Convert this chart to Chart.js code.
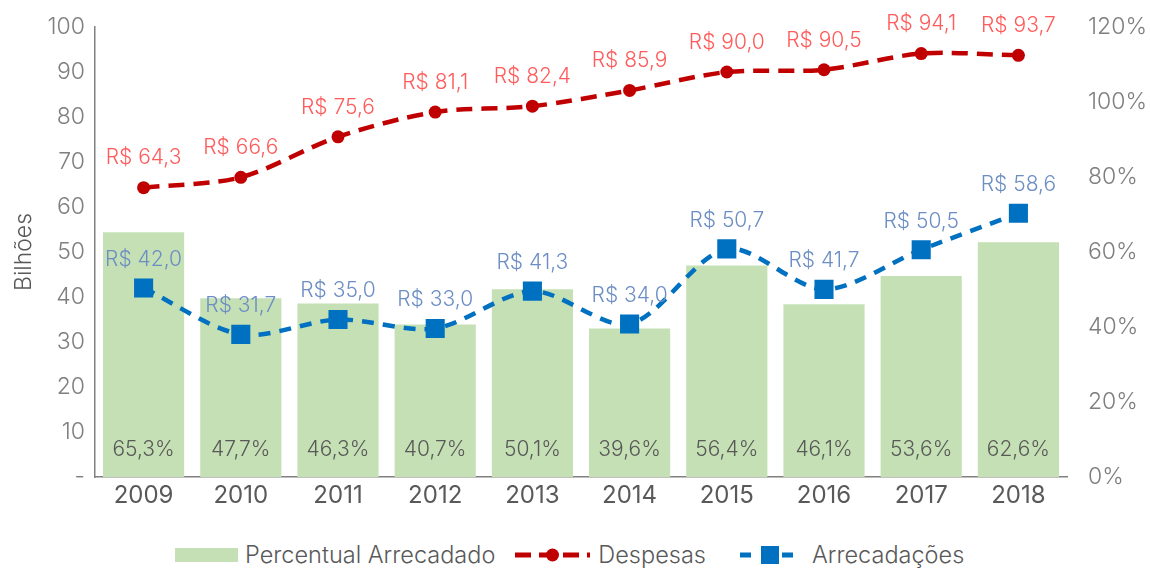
<!DOCTYPE html>
<html lang="pt">
<head>
    <meta charset="UTF-8">
    <title>Despesas x Arrecadações</title>
    <script src="https://cdn.jsdelivr.net/npm/chart.js"></script>
    <style>
        body {
            margin: 0;
            padding: 0;
            background: #fff;
            font-family: 'Inter', sans-serif;
        }
        .wrap {
            position: relative;
            width: 1150px;
            height: 570px;
        }
        .chart-box {
            position: absolute;
            left: 0;
            top: 0;
            width: 1150px;
            height: 520px;
        }
        .legend {
            position: absolute;
            top: 540px;
            left: 175px;
            display: flex;
            align-items: center;
            font-size: 23.5px;
            font-weight: 300;
            color: #595959;
            white-space: nowrap;
        }
        .legend .item {
            display: flex;
            align-items: center;
        }
    </style>
</head>
<body>
<div class="wrap">
    <div class="chart-box">
        <canvas id="chart" width="1150" height="520"></canvas>
    </div>
    <div class="legend">
        <div class="item">
            <svg width="63" height="16" style="margin-right:7px"><rect x="0" y="1" width="63" height="14" fill="#C5E0B4"></rect></svg>
            <span>Percentual Arrecadado</span>
        </div>
        <div class="item" style="margin-left:20px">
            <svg width="75" height="16" style="margin-right:8px">
                <line x1="0" y1="8" x2="75" y2="8" stroke="#C00000" stroke-width="5" stroke-dasharray="16 8"></line>
                <circle cx="37.5" cy="8" r="6.5" fill="#C00000"></circle>
            </svg>
            <span>Despesas</span>
        </div>
        <div class="item" style="margin-left:34px">
            <svg width="60" height="20" style="margin-right:12px">
                <line x1="0" y1="10" x2="60" y2="10" stroke="#0070C0" stroke-width="5" stroke-dasharray="11 10"></line>
                <rect x="21" y="1" width="18" height="18" fill="#0070C0"></rect>
            </svg>
            <span>Arrecadações</span>
        </div>
    </div>
</div>

<script>
    const years = ['2009', '2010', '2011', '2012', '2013', '2014', '2015', '2016', '2017', '2018'];
    const despesas = [64.3, 66.6, 75.6, 81.1, 82.4, 85.9, 90.0, 90.5, 94.1, 93.7];
    const arrecadacoes = [42.0, 31.7, 35.0, 33.0, 41.3, 34.0, 50.7, 41.7, 50.5, 58.6];
    const percentual = [65.3, 47.7, 46.3, 40.7, 50.1, 39.6, 56.4, 46.1, 53.6, 62.6];

    const fmt = v => v.toFixed(1).replace('.', ',');

    // draws the value labels (no datalabels plugin here)
    const valueLabels = {
        id: 'valueLabels',
        afterDatasetsDraw(chart) {
            const ctx = chart.ctx;
            ctx.save();
            ctx.font = '300 21px Inter';
            ctx.textAlign = 'center';
            chart.data.datasets.forEach((ds, i) => {
                const meta = chart.getDatasetMeta(i);
                meta.data.forEach((el, j) => {
                    const v = ds.data[j];
                    if (ds.type === 'bar') {
                        ctx.fillStyle = '#595959';
                        ctx.textBaseline = 'middle';
                        ctx.fillText(fmt(v) + '%', el.x, chart.chartArea.bottom - 27);
                    } else {
                        ctx.fillStyle = ds.labelColor;
                        ctx.textBaseline = 'bottom';
                        ctx.fillText('R$ ' + fmt(v), el.x, el.y - ds.labelOffset);
                    }
                });
            });
            ctx.restore();
        }
    };

    const ctx = document.getElementById('chart').getContext('2d');
    new Chart(ctx, {
        data: {
            labels: years,
            datasets: [
                {
                    type: 'line',
                    label: 'Despesas',
                    data: despesas,
                    yAxisID: 'y',
                    borderColor: '#C00000',
                    backgroundColor: '#C00000',
                    borderWidth: 4.5,
                    borderDash: [16, 9],
                    tension: 0.3,
                    pointStyle: 'circle',
                    pointRadius: 6.5,
                    pointHoverRadius: 6.5,
                    pointBorderWidth: 0,
                    labelColor: '#FF5B5B',
                    labelOffset: 19,
                    order: 1
                },
                {
                    type: 'line',
                    label: 'Arrecadações',
                    data: arrecadacoes,
                    yAxisID: 'y',
                    borderColor: '#0070C0',
                    backgroundColor: '#0070C0',
                    borderWidth: 4.5,
                    borderDash: [12, 9],
                    tension: 0.3,
                    pointStyle: 'rect',
                    pointRadius: 13.5,
                    pointHoverRadius: 13.5,
                    pointBorderWidth: 0,
                    labelColor: '#6C8EC4',
                    labelOffset: 18,
                    order: 2
                },
                {
                    type: 'bar',
                    label: 'Percentual Arrecadado',
                    data: percentual,
                    yAxisID: 'y2',
                    backgroundColor: '#C5E0B4',
                    barPercentage: 0.835,
                    categoryPercentage: 1.0,
                    order: 3
                }
            ]
        },
        options: {
            responsive: false,
            animation: false,
            layout: {
                padding: { top: 27, left: 0, right: 0, bottom: 0 }
            },
            plugins: {
                legend: { display: false },
                tooltip: { enabled: false }
            },
            scales: {
                x: {
                    grid: { display: false, drawTicks: false },
                    border: { color: '#808080', width: 1.5 },
                    ticks: {
                        color: '#595959',
                        font: { family: 'Inter', size: 24, weight: 400 },
                        padding: 4
                    },
                    afterFit(scale) { scale.height = 43; }
                },
                y: {
                    position: 'left',
                    min: 0,
                    max: 100,
                    grid: { display: false, drawTicks: false },
                    border: { color: '#808080', width: 1.5 },
                    ticks: {
                        stepSize: 10,
                        color: '#7F7F7F',
                        font: { family: 'Inter', size: 23, weight: 300 },
                        padding: 10,
                        callback: v => v === 0 ? '-' : v
                    },
                    title: {
                        display: true,
                        text: 'Bilhões',
                        color: '#595959',
                        font: { family: 'Inter', size: 23, weight: 300 },
                        padding: { top: 10, bottom: 0 }
                    },
                    afterFit(scale) {
                        scale.width = 95;
                        scale.paddingTop = 0;
                        scale.paddingBottom = 0;
                    }
                },
                y2: {
                    position: 'right',
                    min: 0,
                    max: 120,
                    grid: { display: false, drawTicks: false },
                    border: { display: false },
                    ticks: {
                        stepSize: 20,
                        color: '#7F7F7F',
                        font: { family: 'Inter', size: 23, weight: 300 },
                        padding: 21,
                        callback: v => v + '%'
                    },
                    afterFit(scale) {
                        scale.width = 83;
                        scale.paddingTop = 0;
                        scale.paddingBottom = 0;
                    }
                }
            }
        },
        plugins: [valueLabels]
    });
</script>
</body>
</html>
